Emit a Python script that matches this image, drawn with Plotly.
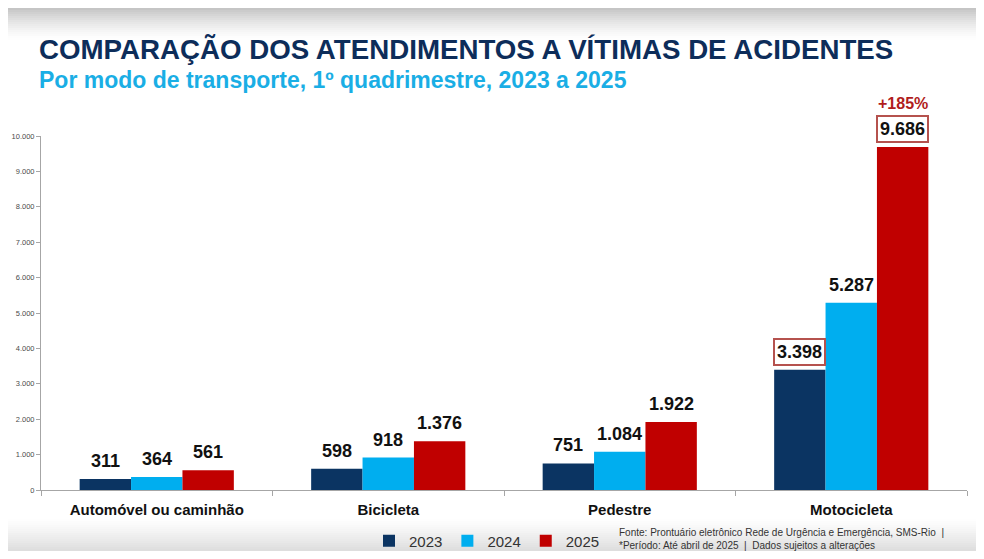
import plotly.graph_objects as go

# dados
categorias = ["Automóvel ou caminhão", "Bicicleta", "Pedestre", "Motocicleta"]
anos = ["2023", "2024", "2025"]
v2023 = [311, 598, 751, 3398]
v2024 = [364, 918, 1084, 5287]
v2025 = [561, 1376, 1922, 9686]
valores = [v2023, v2024, v2025]
destaque = [[False, False, False, True], [False, False, False, False], [False, False, False, True]]
variacao = "+185%"
ticks_y = [0, 1000, 2000, 3000, 4000, 5000, 6000, 7000, 8000, 9000, 10000]

cores = ["#0b3462", "#00aeef", "#c00000"]
largura = 0.222
desloc = [-largura, 0, largura]

# a página tem margem de 8px, então a figura fica menor que a janela
OFF = 8
W, H = 984 - 2 * OFF, 559 - 2 * OFF
ML, MR, MT, MB = 33, 9, 128, 61
ph = H - MT - MB
pw = W - ML - MR


def py(s):  # y na tela -> paper
    return (H - MB - (s - OFF)) / ph


def pxx(s):  # x na tela -> paper
    return (s - OFF - ML) / pw


fig = go.Figure()

for i, ano in enumerate(anos):
    xs = [k + desloc[i] for k in range(len(categorias))]
    fig.add_trace(go.Bar(x=xs, y=valores[i], name=ano, width=largura,
                         marker=dict(color=cores[i], line=dict(width=0))))

anots = []
for i in range(len(anos)):
    for k, v in enumerate(valores[i]):
        txt = f"{v:,}".replace(",", ".")
        a = dict(x=k + desloc[i], y=v, xref="x", yref="y", text="<b>%s</b>" % txt,
                 showarrow=False, yanchor="middle", yshift=18,
                 font=dict(size=18, color="#111111", family="Liberation Sans, Arial"))
        if destaque[i][k]:
            a.update(bordercolor="#b5524e", borderwidth=2, borderpad=2, bgcolor="white")
        anots.append(a)

# +185% acima da barra de 2025 da motocicleta
anots.append(dict(x=3 + desloc[2], y=v2025[3], xref="x", yref="y", text="<b>%s</b>" % variacao,
                  showarrow=False, yanchor="middle", yshift=44,
                  font=dict(size=16, color="#b01c1c", family="Liberation Sans, Arial")))

# títulos
anots.append(dict(x=pxx(37), y=py(49), xref="paper", yref="paper", xanchor="left", yanchor="middle",
                  text="<b>COMPARAÇÃO DOS ATENDIMENTOS A VÍTIMAS DE ACIDENTES</b>", showarrow=False,
                  font=dict(size=27.7, color="#0d2d5a", family="Liberation Sans, Arial")))
anots.append(dict(x=pxx(37), y=py(80), xref="paper", yref="paper", xanchor="left", yanchor="middle",
                  text="<b>Por modo de transporte, 1º quadrimestre, 2023 a 2025</b>", showarrow=False,
                  font=dict(size=23, color="#1aaee5", family="Liberation Sans, Arial")))

# fonte
anots.append(dict(x=pxx(617), y=py(539), xref="paper", yref="paper", xanchor="left", yanchor="middle",
                  align="left", showarrow=False,
                  text="Fonte: Prontuário eletrônico Rede de Urgência e Emergência, SMS-Rio  |<br>"
                       "*Período: Até abril de 2025  |  Dados sujeitos a alterações",
                  font=dict(size=10, color="#333333", family="Liberation Sans, Arial")))

# fundo com faixas cinza no topo e no rodapé
formas = []
n = 16
for j in range(n):
    t = j / n
    formas.append(dict(type="rect", xref="paper", yref="paper", layer="below",
                       x0=pxx(OFF), x1=pxx(984 - OFF), y0=py(OFF + j * 2), y1=py(OFF + j * 2 + 2),
                       line=dict(width=0),
                       fillcolor="rgba(150,150,150,%.3f)" % (0.55 * (1 - t) ** 1.5)))
for j in range(n):
    t = j / n
    formas.append(dict(type="rect", xref="paper", yref="paper", layer="below",
                       x0=pxx(OFF), x1=pxx(984 - OFF), y0=py(559 - OFF - j * 2), y1=py(559 - OFF - j * 2 - 2),
                       line=dict(width=0),
                       fillcolor="rgba(160,160,160,%.3f)" % (0.35 * (1 - t) ** 1.2)))

fig.update_layout(
    width=W, height=H,
    margin=dict(l=ML, r=MR, t=MT, b=MB),
    paper_bgcolor="white", plot_bgcolor="white",
    separators=",.",
    barmode="overlay",
    showlegend=True,
    legend=dict(orientation="h", x=pxx(487), xanchor="center",
                yref="container", y=1 - (541 - OFF) / H, yanchor="middle",
                font=dict(size=15, color="#333333", family="Liberation Sans, Arial"),
                bgcolor="rgba(0,0,0,0)", itemclick=False),
    annotations=anots,
    shapes=formas,
    xaxis=dict(range=[-0.5, 3.5], tickvals=list(range(len(categorias))),
               ticktext=["<b>%s</b>" % c for c in categorias], ticks="", ticklabelstandoff=6,
               automargin=False,
               tickfont=dict(size=15, color="#111111", family="Liberation Sans, Arial"),
               showline=True, linecolor="#a6a6a6", linewidth=1, showgrid=False, zeroline=False,
               minor=dict(tickvals=[-0.5, 0.5, 1.5, 2.5, 3.5], ticks="outside", ticklen=5,
                          tickcolor="#a6a6a6", showgrid=False)),
    yaxis=dict(range=[0, 10000], tickvals=ticks_y, tickformat=",d", ticks="outside", ticklen=4,
               tickcolor="#a6a6a6", showline=True, linecolor="#a6a6a6", linewidth=1,
               showgrid=False, zeroline=False, automargin=False,
               tickfont=dict(size=7.5, color="#4a4a4a", family="Liberation Sans, Arial")),
)

fig.write_html("out.html")
